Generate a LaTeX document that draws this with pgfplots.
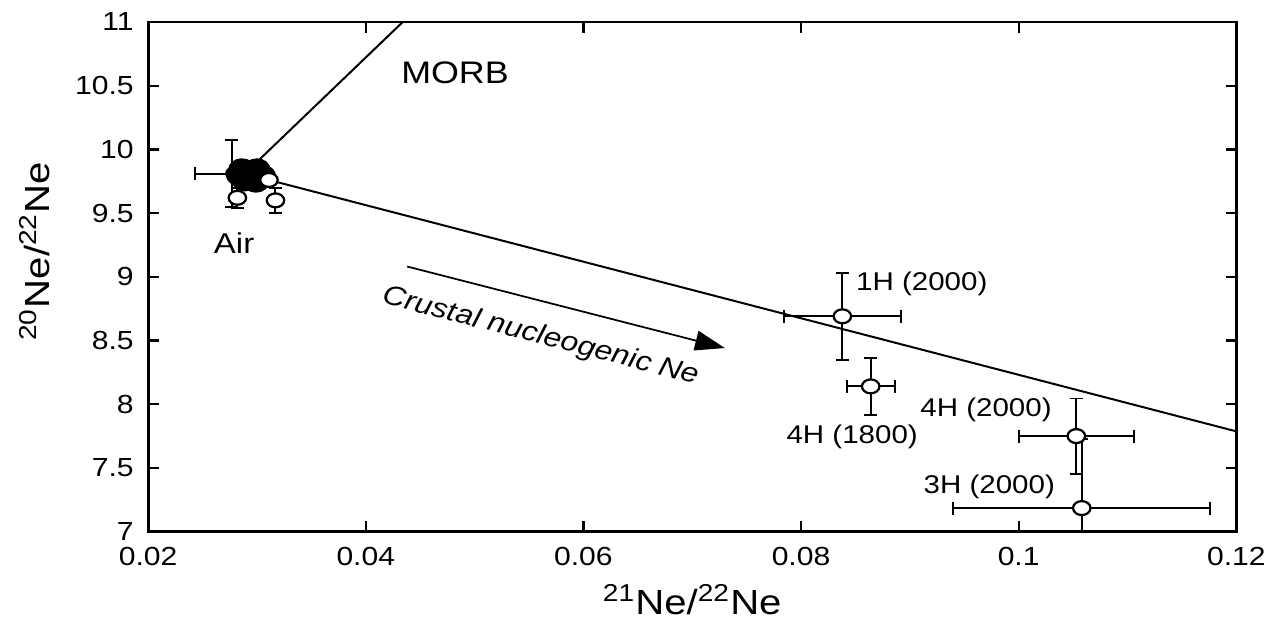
\documentclass[border=0pt]{standalone}
\usepackage{pgfplots}
\pgfplotsset{compat=1.18}
\usepackage{fontspec}
\setmainfont{Liberation Sans}[FakeStretch=1.15]
\usetikzlibrary{arrows.meta}

\begin{document}
\begin{tikzpicture}
  \begin{axis}[
    width=15.35cm, height=7.19cm,
    scale only axis,
    xmin=0.02, xmax=0.12,
    ymin=7, ymax=11,
    xtick={0.02,0.04,...,0.12},
    ytick={7,7.5,...,11},
    xticklabels={0.02,0.04,0.06,0.08,0.1,0.12},
    yticklabels={7,7.5,8,8.5,9,9.5,10,10.5,11},
    tick align=inside,
    major tick length=0.15cm,
    axis line style={line width=1.1pt},
    every tick/.style={line width=0.9pt, black},
    tick label style={font=\fontsize{10.5}{12}\selectfont},
    xticklabel style={yshift=-0.1cm},
    yticklabel style={xshift=-0.08cm},
    /pgf/number format/assume math mode=true,
    xlabel={\textsuperscript{21}Ne/\textsuperscript{22}Ne},
    ylabel={\textsuperscript{20}Ne/\textsuperscript{22}Ne},
    xlabel style={font=\fontsize{14}{16}\selectfont, at={(axis description cs:0.5,-0.133)}, anchor=center},
    ylabel style={font=\fontsize{14}{16}\selectfont, at={(axis description cs:-0.104,0.55)}, anchor=center},
    error bars/error bar style={line width=0.8pt},
    error bars/error mark options={rotate=90, mark size=2.6pt, line width=0.8pt, draw=black},
    clip=true,
  ]
  % mixing lines
  \addplot[black, line width=0.8pt] coordinates {(0.0290,9.82) (0.0434,11)};
  \addplot[black, line width=0.8pt] coordinates {(0.0293,9.80) (0.12,7.787)};
  % arrow
  \addplot[black, line width=0.7pt, -{Triangle[length=0.42cm,width=0.28cm]}]
    coordinates {(0.0438,9.081) (0.0730,8.441)};

  % air point with error bars (mostly hidden under blob)
  \addplot[black, only marks, mark=*, mark size=2.5pt,
    error bars/.cd, x dir=both, x explicit, y dir=both, y explicit]
    coordinates {(0.0277,9.81) +- (0.0034,0.26)};

  % air cluster (filled)
  \addplot[black, only marks, mark=*, mark size=4.4pt, mark options={xscale=1.2}] coordinates {
    (0.0284,9.80) (0.0291,9.83) (0.0300,9.84) (0.0305,9.79)
    (0.0299,9.75) (0.0289,9.76) (0.0295,9.80) (0.0286,9.84)
  };

  % open samples near air
  \addplot[black, only marks, mark=*, mark size=2.8pt,
    mark options={fill=white, draw=black, line width=0.9pt, xscale=1.25},
    error bars/.cd, y dir=both, y explicit]
    coordinates {
      (0.0282,9.62) +- (0,0.08)
      (0.0317,9.60) +- (0,0.10)
    };
  \addplot[black, only marks, mark=*, mark size=2.8pt,
    mark options={fill=white, draw=black, line width=0.9pt, xscale=1.25}]
    coordinates {(0.0311,9.76)};

  % samples
  \addplot[black, only marks, mark=*, mark size=2.8pt,
    mark options={fill=white, draw=black, line width=0.9pt, xscale=1.25},
    error bars/.cd, x dir=both, x explicit, y dir=both, y explicit]
    coordinates {
      (0.0838,8.69) +- (0.0054,0.34)
      (0.0864,8.14) +- (0.0022,0.225)
      (0.1053,7.75) +- (0.0053,0.295)
      (0.1058,7.185) +- (0.0118,0.54)
    };

  \node[font=\fontsize{12.5}{14}\selectfont] at (axis cs:0.0482,10.6) {MORB};
  \node[font=\fontsize{11.5}{13}\selectfont] at (axis cs:0.0279,9.267) {Air};
  \node[font=\fontsize{11}{13}\selectfont\itshape, rotate=-14.5] at (axis cs:0.0561,8.53) {Crustal nucleogenic Ne};
  \node[font=\fontsize{10.3}{12}\selectfont] at (axis cs:0.0911,8.945) {1H (2000)};
  \node[font=\fontsize{10.3}{12}\selectfont] at (axis cs:0.0847,7.745) {4H (1800)};
  \node[font=\fontsize{10.3}{12}\selectfont] at (axis cs:0.0970,7.957) {4H (2000)};
  \node[font=\fontsize{10.3}{12}\selectfont] at (axis cs:0.0973,7.353) {3H (2000)};
  \end{axis}
  \path (current axis.south west) ++(-2.09cm,-1.23cm) coordinate (bbsw);
  \path (current axis.north east) ++(0.56cm,0.31cm) coordinate (bbne);
  \path (bbsw) rectangle (bbne);
\end{tikzpicture}
\end{document}
